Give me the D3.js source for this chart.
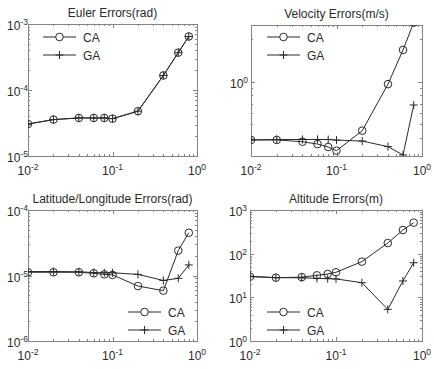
<!DOCTYPE html>
<html>
<head>
<meta charset="utf-8">
<script src="https://cdn.jsdelivr.net/npm/d3@7"></script>
<style>
  body { margin: 0; background: #fff; }
  svg { display: block; font-family: "Liberation Sans", Arial, sans-serif; }
</style>
</head>
<body>
<div id="chart"></div>
<script>
const width = 434;
const height = 369;

// sample rates along the x axis
const xs = [0.01, 0.02, 0.04, 0.06, 0.08, 0.1, 0.2, 0.4, 0.6, 0.8];

const eulerCA = [3.05e-5, 3.56e-5, 3.77e-5, 3.77e-5, 3.77e-5, 3.68e-5, 4.77e-5, 1.66e-4, 3.68e-4, 6.47e-4];
const eulerGA = [3.05e-5, 3.56e-5, 3.77e-5, 3.77e-5, 3.77e-5, 3.68e-5, 4.77e-5, 1.66e-4, 3.68e-4, 6.47e-4];

const velCA = [0.389, 0.389, 0.378, 0.364, 0.347, 0.327, 0.452, 0.96, 1.67, 2.6];
const velGA = [0.389, 0.392, 0.392, 0.392, 0.392, 0.388, 0.382, 0.349, 0.305, 0.685];

const latCA = [1.12e-5, 1.12e-5, 1.12e-5, 1.08e-5, 1.04e-5, 1.02e-5, 6.9e-6, 5.87e-6, 2.4e-5, 4.5e-5];
const latGA = [1.15e-5, 1.15e-5, 1.14e-5, 1.11e-5, 1.1e-5, 1.1e-5, 1.04e-5, 8.4e-6, 9.05e-6, 1.45e-5];

const altCA = [29.7, 28.2, 29, 31.9, 34.2, 37.4, 65.7, 175, 348, 513];
const altGA = [30.4, 28.2, 28, 27.2, 26.8, 26.4, 21.7, 5.3, 23.7, 62];

const titles = ["Euler Errors(rad)", "Velocity Errors(m/s)", "Latitude/Longitude Errors(rad)", "Altitude Errors(m)"];
const seriesNames = ["CA", "GA"];

const axisColor = "#858585";
const inkColor = "#2a2a2a";

const panels = [
    { title: titles[0], ca: eulerCA, ga: eulerGA, yDomain: [1e-5, 1e-3],
      box: { x0: 28, x1: 197, y0: 24, y1: 156 }, legend: { x: 43, y: 37 } },
    { title: titles[1], ca: velCA, ga: velGA, yDomain: [0.3, 2.5],
      box: { x0: 251, x1: 422, y0: 25, y1: 156 }, legend: { x: 267, y: 37 } },
    { title: titles[2], ca: latCA, ga: latGA, yDomain: [1e-6, 1e-4],
      box: { x0: 28, x1: 197, y0: 210, y1: 341 }, legend: { x: 128, y: 312 } },
    { title: titles[3], ca: altCA, ga: altGA, yDomain: [1, 1e3],
      box: { x0: 250, x1: 422, y0: 210, y1: 341 }, legend: { x: 267, y: 312 } }
];

const svg = d3.select("#chart").append("svg")
    .attr("width", width)
    .attr("height", height);

svg.append("rect").attr("width", width).attr("height", height).attr("fill", "#fff");

function isDecade(v) {
    const e = Math.log10(v);
    return Math.abs(e - Math.round(e)) < 1e-9;
}

// "10" with a raised exponent
function powLabel(sel, v) {
    const e = Math.round(Math.log10(v));
    sel.append("tspan").text("10");
    sel.append("tspan").attr("dy", -5).attr("font-size", 8.5).text(e);
}

function drawPanel(p, i) {
    const b = p.box;
    const x = d3.scaleLog().domain([0.01, 1]).range([b.x0, b.x1]);
    const y = d3.scaleLog().domain(p.yDomain).range([b.y1, b.y0]);

    const g = svg.append("g").attr("class", "panel");

    const clipId = "clip" + i;
    g.append("clipPath").attr("id", clipId)
        .append("rect")
        .attr("x", b.x0).attr("y", b.y0)
        .attr("width", b.x1 - b.x0).attr("height", b.y1 - b.y0);

    // ticks on all four sides, pointing inward
    const ticksG = g.append("g").attr("stroke", axisColor).attr("stroke-width", 1);
    x.ticks().forEach(t => {
        const len = isDecade(t) ? 4 : 2;
        const px = Math.round(x(t)) + 0.5;
        ticksG.append("line").attr("x1", px).attr("x2", px).attr("y1", b.y1).attr("y2", b.y1 - len);
        ticksG.append("line").attr("x1", px).attr("x2", px).attr("y1", b.y0).attr("y2", b.y0 + len);
    });
    y.ticks().forEach(t => {
        const len = isDecade(t) ? 4 : 2;
        const py = Math.round(y(t)) + 0.5;
        ticksG.append("line").attr("y1", py).attr("y2", py).attr("x1", b.x0).attr("x2", b.x0 + len);
        ticksG.append("line").attr("y1", py).attr("y2", py).attr("x1", b.x1).attr("x2", b.x1 - len);
    });

    // frame
    g.append("rect")
        .attr("x", b.x0 + 0.5).attr("y", b.y0 + 0.5)
        .attr("width", b.x1 - b.x0).attr("height", b.y1 - b.y0)
        .attr("fill", "none").attr("stroke", axisColor);

    // tick labels
    x.ticks().filter(isDecade).forEach(t => {
        g.append("text")
            .attr("x", x(t)).attr("y", b.y1 + 19)
            .attr("text-anchor", "middle")
            .attr("font-size", 12).attr("fill", inkColor)
            .call(powLabel, t);
    });
    y.ticks().filter(isDecade).forEach(t => {
        g.append("text")
            .attr("x", b.x0 - 21).attr("y", y(t) + 6)
            .attr("font-size", 12).attr("fill", inkColor)
            .call(powLabel, t);
    });

    // title
    g.append("text")
        .attr("x", (b.x0 + b.x1) / 2).attr("y", b.y0 - 7)
        .attr("text-anchor", "middle")
        .attr("font-size", 12).attr("fill", inkColor)
        .text(p.title);

    const line = d3.line().x((d, k) => x(xs[k])).y(d => y(d));
    const plot = g.append("g").attr("clip-path", `url(#${clipId})`);

    [p.ca, p.ga].forEach((vals, s) => {
        plot.append("path")
            .attr("d", line(vals))
            .attr("fill", "none").attr("stroke", inkColor).attr("stroke-width", 1);
        const marks = plot.selectAll(null).data(vals).join("g")
            .attr("transform", (d, k) => `translate(${x(xs[k])},${y(d)})`);
        if (s === 0) {
            marks.append("circle").attr("r", 3.8)
                .attr("fill", "none").attr("stroke", inkColor);
        } else {
            marks.append("path").attr("d", "M-4,0H4M0,-4V4")
                .attr("stroke", inkColor);
        }
    });

    // legend
    const lg = g.append("g");
    seriesNames.forEach((name, s) => {
        const ly = p.legend.y + s * 18;
        lg.append("line")
            .attr("x1", p.legend.x).attr("x2", p.legend.x + 33)
            .attr("y1", ly).attr("y2", ly)
            .attr("stroke", inkColor);
        const cx = p.legend.x + 16.5;
        if (s === 0) {
            lg.append("circle").attr("cx", cx).attr("cy", ly).attr("r", 3.8)
                .attr("fill", "#fff").attr("stroke", inkColor);
        } else {
            lg.append("path").attr("d", `M${cx - 4},${ly}H${cx + 4}M${cx},${ly - 4}V${ly + 4}`)
                .attr("stroke", inkColor);
        }
        lg.append("text")
            .attr("x", p.legend.x + 40).attr("y", ly + 4.5)
            .attr("font-size", 12).attr("fill", inkColor)
            .text(name);
    });
}

panels.forEach(drawPanel);
</script>
</body>
</html>
